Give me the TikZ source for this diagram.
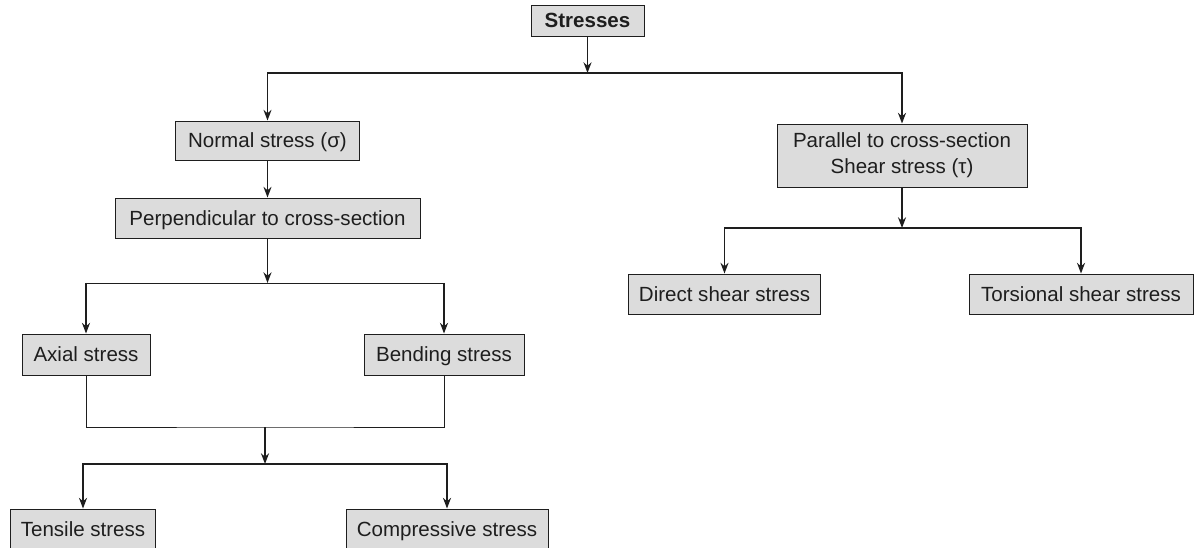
\documentclass[tikz,border=0pt]{standalone}
\usepackage{fontspec}
\setmainfont{Liberation Sans}
\usepackage{xcolor}
\usepackage{tikz}
\usetikzlibrary{arrows.meta, positioning}
\definecolor{boxgray}{HTML}{DCDCDC}
\definecolor{inkgray}{HTML}{1E1E1E}
\tikzstyle{arrow}    = [line width=1.3pt, draw=inkgray, -{Stealth[length=8pt,width=6pt]}]
\tikzstyle{link}     = [line width=0.6pt, draw=inkgray]
\tikzstyle{block}    = [rectangle, draw=inkgray, line width=0.7pt, fill=boxgray, text=inkgray, inner xsep=4pt, minimum height=30pt, font=\fontsize{15.4}{19.5}\selectfont]
\tikzstyle{oneline}  = [block, text height=11pt, text depth=0pt]
\tikzset{every node/.style={align=center}}

\begin{document}
\begin{tikzpicture}[x=0.75pt, y=-0.75pt]
    \clip (0,0) rectangle (1194,548);

    \node (stress)  at (587.5,20.5) [oneline, minimum width=84.75pt, minimum height=23.25pt] {\textbf{Stresses}};
    \node (normal)  at (267.5,140.5)[oneline, minimum width=138pt, minimum height=29.25pt]  {Normal stress (σ)};
    \node (perp)    at (267.5,218)  [oneline, minimum width=228.75pt] {Perpendicular to cross-section};
    \node (axial)   at (86,354.5)   [oneline, minimum width=96pt, minimum height=30.75pt]    {Axial stress};
    \node (bending) at (444,354.5)  [oneline, minimum width=120pt, minimum height=30.75pt]   {Bending stress};
    \node (tensile) at (83,529.5)   [oneline, minimum width=108.75pt, minimum height=30.75pt]{Tensile stress};
    \node (compr)   at (447,529.5)  [oneline, minimum width=151.5pt, minimum height=30.75pt] {Compressive stress};
    \node (shear)   at (902,155.5)  [block, minimum width=187.5pt, minimum height=47.25pt] {Parallel to cross-section\\Shear stress (τ)};
    \node (direct)  at (724.5,294)  [oneline, minimum width=144pt]  {Direct shear stress};
    \node (torsion) at (1081,294)   [oneline, minimum width=168pt]  {Torsional shear stress};

    \coordinate (split)  at (587.5,73);
    \coordinate (fork)   at (267.5,283);
    \coordinate (merge)  at (265,427);
    \coordinate (fork2)  at (265,464);
    \coordinate (fork3)  at (902,228);

    \draw [arrow] (stress) -- (split);
    \draw [arrow] (split) -| (normal);
    \draw [arrow] (split) -| (shear);
    \draw [arrow] (normal) -- (perp);

    \draw [arrow] (perp) -- (fork);
    \draw [link]  (fork -| axial) -- (fork -| bending);
    \draw [arrow] (fork -| axial) -- (axial);
    \draw [arrow] (fork -| bending) -- (bending);

    \draw [link]  (axial) |- (merge) -| (bending);
    \draw [arrow] (merge) -- (fork2);
    \draw [arrow] (fork2) -| (tensile);
    \draw [arrow] (fork2) -| (compr);

    \draw [arrow] (shear) -- (fork3);
    \draw [arrow] (fork3) -| (direct);
    \draw [arrow] (fork3) -| (torsion);
\end{tikzpicture}
\end{document}
